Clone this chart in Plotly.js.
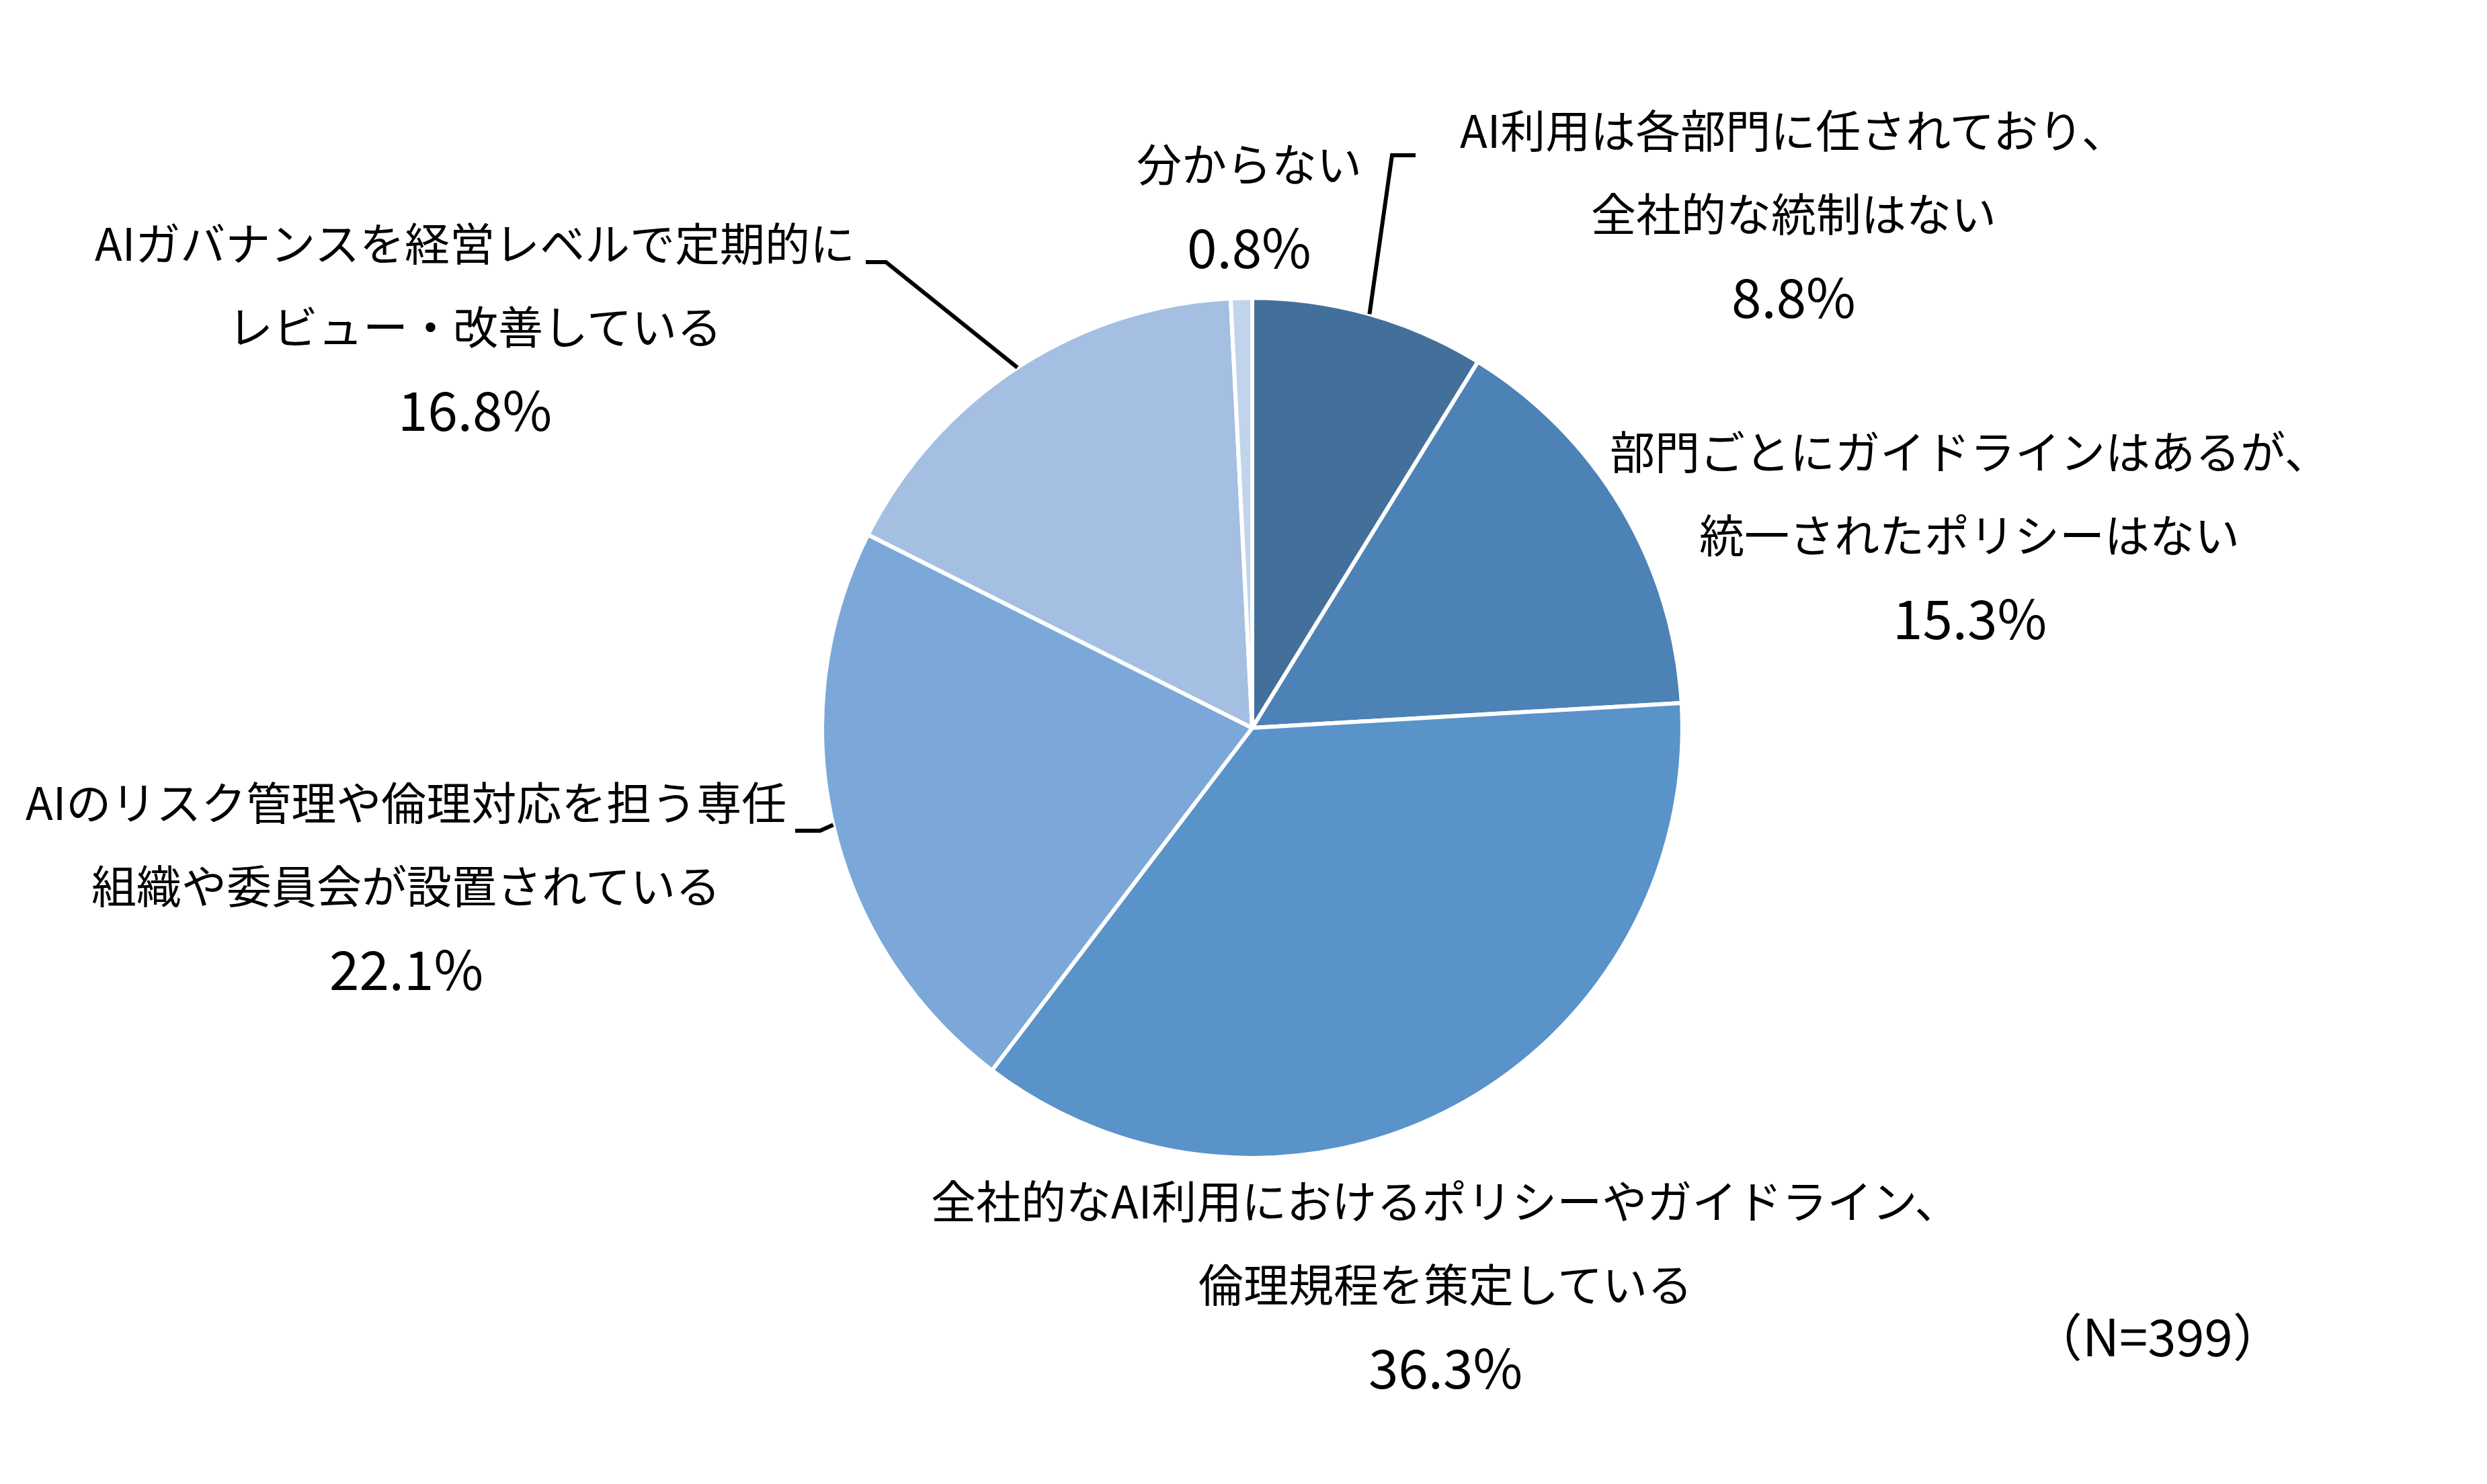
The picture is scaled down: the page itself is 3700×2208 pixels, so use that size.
<!DOCTYPE html>
<html>
<head>
<meta charset="utf-8">
<script src="https://cdn.plot.ly/plotly-3.0.1.min.js"></script>
<style>
  html, body { margin: 0; padding: 0; background: #fff; }
  #chart { width: 3700px; height: 2208px; }
</style>
</head>
<body>
<div id="chart"></div>
<script>
// AIガバナンス体制（N=399）
const categories = [
  "AI利用は各部門に任されており、\n全社的な統制はない",
  "部門ごとにガイドラインはあるが、\n統一されたポリシーはない",
  "全社的なAI利用におけるポリシーやガイドライン、\n倫理規程を策定している",
  "AIのリスク管理や倫理対応を担う専任\n組織や委員会が設置されている",
  "AIガバナンスを経営レベルで定期的に\nレビュー・改善している",
  "分からない",
];
const shares = [8.8, 15.3, 36.3, 22.1, 16.8, 0.8];
const sliceColors = ["#42709b", "#4d82b6", "#5993c9", "#7ba8d9", "#a4bfe2", "#c2d4ec"];
const noteText = "（N=399）";

const W = 3700, H = 2208;
const FONT = '"Noto Sans CJK JP", "Noto Sans", sans-serif';
const FS = 67;       // label text
const FS_PCT = 80;   // percentages
const FS_NOTE = 76;
const LINE_GAP = 124;

// label block anchor (px, centre x / first line centre y)
const labelAnchor = [
  [2668, 190],
  [2930, 668],
  [2150, 1783],
  [604, 1190],
  [706, 358],
  [1858, 240],
];
// leader lines: elbow + end (px); null = no leader
const leaderElbow = [[2071, 231], null, null, [1220, 1236], [1318, 390], null];
const leaderEnd = [[2106, 231], null, null, [1183, 1236], [1288, 390], null];

const dom = { x: [0.3035, 0.7035], y: [0.2197, 0.7993] };
const cx = W * (dom.x[0] + dom.x[1]) / 2;
const cy = H * (1 - (dom.y[0] + dom.y[1]) / 2);
const r = Math.min(W * (dom.x[1] - dom.x[0]), H * (dom.y[1] - dom.y[0])) / 2;

const px = (x) => x / W;
const py = (y) => 1 - y / H;

const total = shares.reduce((a, b) => a + b, 0);
const annotations = [];
const shapes = [];
let cum = 0;
shares.forEach((v, i) => {
  const mid = (cum + v / 2) / total * 2 * Math.PI;
  cum += v;
  const lines = categories[i].split("\n");
  lines.push(v.toFixed(1) + "%");
  lines.forEach((txt, k) => {
    const isPct = k === lines.length - 1;
    annotations.push({
      text: txt,
      xref: "paper", yref: "paper",
      x: px(labelAnchor[i][0]), y: py(labelAnchor[i][1] + k * LINE_GAP),
      xanchor: "center", yanchor: "middle",
      showarrow: false,
      font: { family: FONT, size: isPct ? FS_PCT : FS, color: "#000" },
    });
  });
  if (leaderElbow[i]) {
    const sx = cx + r * Math.sin(mid);
    const sy = cy - r * Math.cos(mid);
    const [ex, ey] = leaderElbow[i];
    const [tx, ty] = leaderEnd[i];
    shapes.push({
      type: "path",
      xref: "paper", yref: "paper",
      path: `M ${px(sx)} ${py(sy)} L ${px(ex)} ${py(ey)} L ${px(tx)} ${py(ty)}`,
      line: { color: "#000", width: 6 },
    });
  }
});

annotations.push({
  text: noteText,
  xref: "paper", yref: "paper",
  x: px(3210), y: py(1985),
  xanchor: "center", yanchor: "middle",
  showarrow: false,
  font: { family: FONT, size: FS_NOTE, color: "#000" },
});

const traces = [{
  type: "pie",
  labels: categories,
  values: shares,
  sort: false,
  direction: "clockwise",
  rotation: 0,
  textinfo: "none",
  hoverinfo: "label+percent",
  domain: dom,
  marker: { colors: sliceColors, line: { color: "#ffffff", width: 6 } },
}];

const layout = {
  width: W, height: H,
  margin: { l: 0, r: 0, t: 0, b: 0 },
  paper_bgcolor: "#ffffff",
  plot_bgcolor: "#ffffff",
  showlegend: false,
  annotations,
  shapes,
};

Plotly.newPlot("chart", traces, layout, { displayModeBar: false, staticPlot: true });
</script>
</body>
</html>
